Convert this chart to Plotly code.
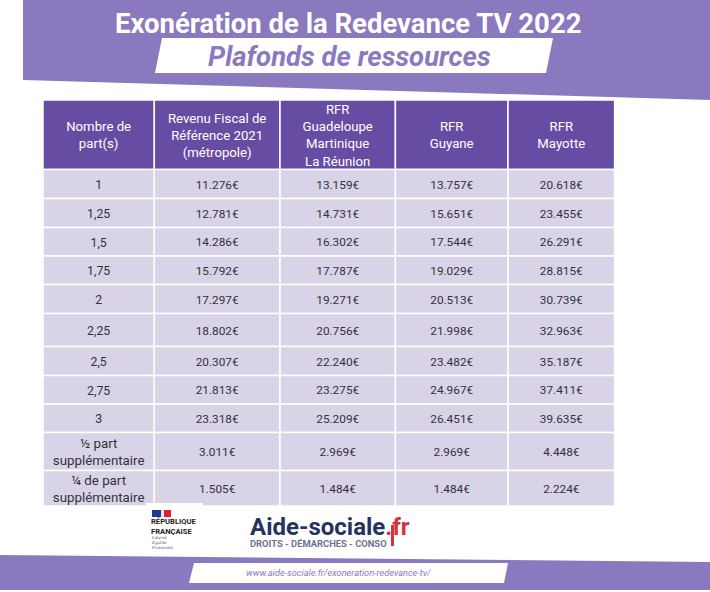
import plotly.graph_objects as go

W, H = 710, 592
PURPLE = "#8b79bf"
HEADER = "#674ca3"
ROW = "#d9d3e8"
INK = "#33323a"
FONT = "Roboto"

headers = ["Nombre de<br>part(s)", "Revenu Fiscal de<br>Référence 2021<br>(métropole)",
           "RFR<br>Guadeloupe<br>Martinique<br>La Réunion", "RFR<br>Guyane", "RFR<br>Mayotte"]
parts = ["1", "1,25", "1,5", "1,75", "2", "2,25", "2,5", "2,75", "3",
         "½ part<br>supplémentaire", "¼ de part<br>supplémentaire"]
metropole = ["11.276€", "12.781€", "14.286€", "15.792€", "17.297€", "18.802€", "20.307€", "21.813€", "23.318€", "3.011€", "1.505€"]
antilles = ["13.159€", "14.731€", "16.302€", "17.787€", "19.271€", "20.756€", "22.240€", "23.275€", "25.209€", "2.969€", "1.484€"]
guyane = ["13.757€", "15.651€", "17.544€", "19.029€", "20.513€", "21.998€", "23.482€", "24.967€", "26.451€", "2.969€", "1.484€"]
mayotte = ["20.618€", "23.455€", "26.291€", "28.815€", "30.739€", "32.963€", "35.187€", "37.411€", "39.635€", "4.448€", "2.224€"]
columns = [parts, metropole, antilles, guyane, mayotte]

col_widths = [111.3, 125.7, 115.4, 112.6, 106.6]
row_heights = [69.5, 29, 29, 28.5, 28.5, 29, 33, 29, 28.5, 28.5, 38, 35.5]
left, top = 43, 100
text_shift = 1.8

col_left = [left + sum(col_widths[:i]) for i in range(len(col_widths))]
col_mid = [l + w / 2 for l, w in zip(col_left, col_widths)]
row_top = [top + sum(row_heights[:i]) for i in range(len(row_heights))]
row_mid = [t + h / 2 + text_shift for t, h in zip(row_top, row_heights)]

fig = go.Figure()

# table cells
cell_x, cell_w, cell_base, cell_h, cell_c = [], [], [], [], []
for c in range(len(columns)):
    for r in range(len(row_heights)):
        cell_x.append(col_mid[c])
        cell_w.append(col_widths[c])
        cell_base.append(row_top[r])
        cell_h.append(row_heights[r])
        cell_c.append(HEADER if r == 0 else ROW)
fig.add_trace(go.Bar(x=cell_x, y=cell_h, base=cell_base, width=cell_w,
                     marker=dict(color=cell_c, line=dict(color="white", width=1.5)),
                     hoverinfo="skip"))

# header text
fig.add_trace(go.Scatter(x=col_mid, y=[row_mid[0]] * len(headers), text=headers, mode="text",
                         textposition="middle center", hoverinfo="skip",
                         textfont=dict(family=FONT, size=13.2, color="white")))
# body text
for c, col in enumerate(columns):
    sizes = [13.3 if "<br>" in v else (12.3 if c == 0 else 11.8) for v in col]
    fig.add_trace(go.Scatter(x=[col_mid[c]] * len(col), y=row_mid[1:], text=col, mode="text",
                             textposition="middle center", hoverinfo="skip",
                             textfont=dict(family=FONT, size=sizes, color=INK)))


def poly(points, color, layer="below"):
    path = "M " + " L ".join(f"{x},{y}" for x, y in points) + " Z"
    return dict(type="path", xref="x", yref="y", path=path, fillcolor=color,
                line=dict(width=0), layer=layer)


def label(x, y, text, size, color, anchor="center", family=FONT):
    return dict(x=x, y=y, xref="x", yref="y", text=text, showarrow=False, align=anchor,
                xanchor=anchor, yanchor="middle", font=dict(family=family, size=size, color=color))


shapes = [
    poly([(23, 0), (710, 0), (710, 100), (23, 80)], PURPLE),
    poly([(162, 38), (553, 38), (546, 73), (155, 73)], "white"),
    poly([(0, 555), (710, 562), (710, 590), (0, 590)], PURPLE),
    poly([(194, 563), (508, 563), (504, 583), (189, 583)], "white"),
    poly([(146, 503), (203, 503), (203, 510), (146, 510)], "white", "above"),
    poly([(152, 510), (161, 510), (161, 517), (152, 517)], "#1f3a93"),
    poly([(161, 510), (164, 510), (164, 517), (161, 517)], "#e8e8f0"),
    poly([(164, 510), (171, 510), (171, 517), (164, 517)], "#e1202f"),
    poly([(391, 525), (394, 525), (394, 546), (391, 546)], "#d0343f"),
]

logo = ("<span style='font-size:24px;color:#26335d'><b>Aide-sociale</b></span>"
        "<span style='font-size:24px;color:#d0343f'><b>.fr</b></span><br>"
        "<b>DROITS - DÉMARCHES - CONSO</b>")

annotations = [
    label(348, 23, "<b>Exonération de la Redevance TV 2022</b>", 27.5, "white"),
    label(349, 56, "<b><i>Plafonds de ressources</i></b>", 27.5, PURPLE),
    label(338.5, 572, "<i>www.aide-sociale.fr/exoneration-redevance-tv/</i>", 9.2, PURPLE),
    label(149, 526, "<b>RÉPUBLIQUE<br>FRANÇAISE</b>", 7.6, "#1d1d1d", "left"),
    label(149, 542, "<i>Liberté<br>Égalité<br>Fraternité</i>", 4, "#555555", "left", "DejaVu Serif"),
    label(248, 531, logo, 9.4, "#6b7390", "left"),
]

fig.update_layout(width=W, height=H, margin=dict(l=0, r=0, t=0, b=0), paper_bgcolor="white",
                  plot_bgcolor="rgba(0,0,0,0)", barmode="overlay", showlegend=False,
                  shapes=shapes, annotations=annotations,
                  xaxis=dict(range=[0, W], visible=False, fixedrange=True),
                  yaxis=dict(range=[H, 0], visible=False, fixedrange=True))
fig.write_html("out.html", config=dict(displayModeBar=False),
               post_script="document.body.style.margin='0';")
